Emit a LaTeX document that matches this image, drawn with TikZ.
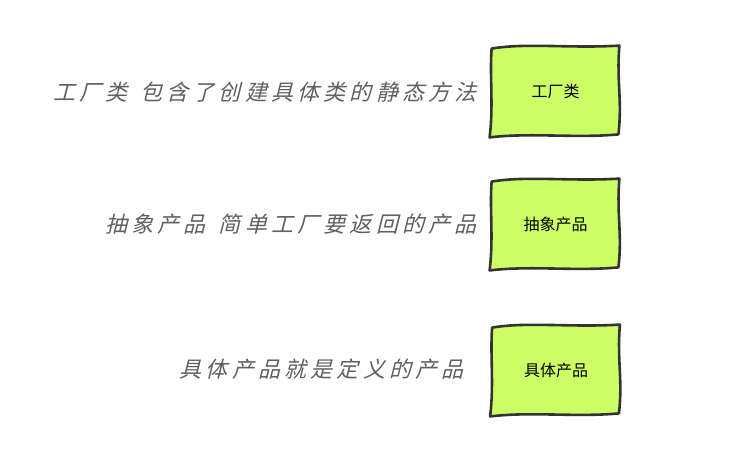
\documentclass[tikz,border=0pt]{standalone}
\usepackage{fontspec}
\usetikzlibrary{calc, backgrounds}
\newfontfamily\boxfont{Noto Sans CJK SC}
\newfontfamily\notefont[FakeSlant=0.25,LetterSpace=19]{Noto Sans CJK SC}
\definecolor{boxcolor}{RGB}{204,255,102}
\definecolor{outlinecolor}{RGB}{51,51,51}
\definecolor{notecolor}{RGB}{96,96,96}

\begin{document}
\begin{tikzpicture}[x=0.5pt,y=-0.5pt]
  \tikzset{
    prodbox/.style={
      minimum width=63.5pt,
      minimum height=44pt,
      inner sep=0pt,
      font=\boxfont\fontsize{8}{10}\selectfont
    },
    sketchline/.style={
      draw=outlinecolor,
      line width=1.3pt,
      fill=boxcolor,
      line join=round,
      line cap=round
    },
    note/.style={
      anchor=east,
      inner sep=0pt,
      text=notecolor,
      font=\notefont\fontsize{11}{13}\selectfont
    }
  }
  \useasboundingbox (0,0) rectangle (743,461);

  % the three boxes
  \node[prodbox] at (555.5,91) (factory) {工厂类};
  \node[prodbox] at (555.5,224) (abstract) {抽象产品};
  \node[prodbox] at (556,370) (concrete) {具体产品};

  % hand drawn outlines behind the text
  \begin{scope}[on background layer]
    \foreach \n in {factory,abstract,concrete} {
      \path[sketchline] ($(\n.north west)+(0,2)$)
        .. controls ($(\n.north west)+(35,-4)$) and ($(\n.north east)+(-50,2)$) .. ($(\n.north east)+(0,-1)$)
        .. controls ($(\n.north east)+(-3,35)$) and ($(\n.south east)+(3,-35)$) .. ($(\n.south east)+(-1,-1)$)
        .. controls ($(\n.south east)+(-45,3)$) and ($(\n.south west)+(40,-3)$) .. ($(\n.south west)+(-2,2)$)
        .. controls ($(\n.south west)+(2,-30)$) and ($(\n.north west)+(-2,30)$) .. cycle;
    }
  \end{scope}

  % notes on the left
  \node[note] at (477,92) (factorynote) {工厂类\hspace{6.5pt}包含了创建具体类的静态方法};
  \node[note] at (477,224) (abstractnote) {抽象产品\hspace{6.5pt}简单工厂要返回的产品};
  \node[note] at (464,369) (concretenote) {具体产品就是定义的产品};
\end{tikzpicture}
\end{document}
